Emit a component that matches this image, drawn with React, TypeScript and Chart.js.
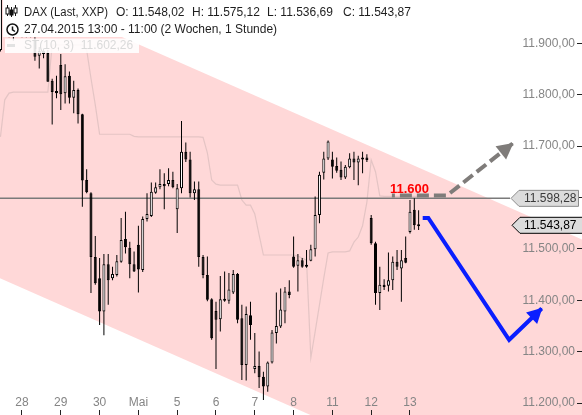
import React, { useEffect, useRef } from 'react';
import { Chart, registerables } from 'chart.js';

Chart.register(...registerables);

const FONT = '"Liberation Sans", Arial, Helvetica, sans-serif';

// Hourly DAX candles, 27.04.2015 13:00 .. 13.05.2015 11:00
const opens = [11887, 11985, 11935, 11920, 11930, 11925, 11918, 11915, 11905, 11876,
  11885, 11881, 11827, 11807, 11858, 11803, 11837, 11794, 11809, 11762,
  11634, 11608, 11484, 11443, 11378, 11470, 11443, 11449, 11475, 11519,
  11502, 11470, 11508, 11459, 11558, 11564, 11609, 11620, 11626, 11626,
  11634, 11577, 11618, 11689, 11674, 11608, 11616, 11484, 11449, 11402,
  11379, 11363, 11402, 11399, 11415, 11451, 11365, 11274, 11371, 11266,
  11272, 11251, 11232, 11279, 11336, 11349, 11378, 11417, 11485, 11467,
  11478, 11465, 11477, 11499, 11566, 11648, 11676, 11674, 11661, 11654,
  11639, 11659, 11676, 11668, 11674, 11678, 11560, 11511, 11414, 11430,
  11428, 11439, 11475, 11462, 11482, 11533, 11576, 11548.02];
const highs = [11995, 11992, 11945, 11938, 11942, 11940, 11930, 11925, 11912, 11893,
  11890, 11887, 11831, 11837, 11879, 11859, 11845, 11827, 11812, 11763,
  11655, 11610, 11525, 11482, 11490, 11490, 11465, 11488, 11560, 11572,
  11514, 11495, 11545, 11563, 11608, 11629, 11629, 11655, 11647, 11657,
  11650, 11626, 11749, 11707, 11689, 11631, 11631, 11488, 11485, 11404,
  11397, 11447, 11456, 11453, 11459, 11453, 11391, 11388, 11397, 11336,
  11300, 11261, 11281, 11342, 11415, 11423, 11426, 11439, 11524, 11490,
  11482, 11498, 11508, 11602, 11650, 11689, 11711, 11689, 11678, 11670,
  11663, 11686, 11689, 11681, 11689, 11684, 11566, 11514, 11465, 11441,
  11493, 11485, 11498, 11498, 11524, 11595, 11598.28, 11575.12];
const lows = [11884, 11925, 11912, 11905, 11915, 11912, 11912, 11912, 11866, 11851,
  11871, 11825, 11742, 11793, 11770, 11783, 11783, 11764, 11744, 11582,
  11608, 11414, 11430, 11352, 11332, 11391, 11439, 11446, 11473, 11491,
  11443, 11455, 11415, 11455, 11553, 11562, 11607, 11616, 11577, 11622,
  11618, 11531, 11608, 11669, 11600, 11595, 11465, 11443, 11398, 11323,
  11266, 11339, 11397, 11393, 11412, 11355, 11245, 11244, 11323, 11258,
  11229, 11206, 11222, 11277, 11316, 11346, 11355, 11404, 11463, 11417,
  11463, 11463, 11476, 11485, 11550, 11635, 11673, 11637, 11648, 11634,
  11636, 11657, 11634, 11624, 11647, 11669, 11508, 11391, 11381, 11420,
  11417, 11420, 11459, 11397, 11472, 11530, 11537, 11536.69];
const closes = [11990, 11935, 11920, 11930, 11925, 11918, 11915, 11914, 11874, 11885,
  11879, 11825, 11805, 11803, 11801, 11836, 11794, 11809, 11762, 11633,
  11610, 11484, 11433, 11378, 11470, 11439, 11451, 11476, 11517, 11503,
  11470, 11456, 11460, 11558, 11568, 11611, 11620, 11626, 11622, 11634,
  11620, 11618, 11689, 11674, 11608, 11616, 11484, 11449, 11401, 11326,
  11362, 11402, 11399, 11421, 11451, 11362, 11274, 11373, 11352, 11272,
  11250, 11232, 11279, 11337, 11350, 11382, 11417, 11410, 11465, 11478,
  11465, 11469, 11499, 11566, 11644, 11676, 11709, 11660, 11652, 11639,
  11660, 11676, 11668, 11676, 11676, 11673, 11511, 11414, 11430, 11426,
  11439, 11475, 11465, 11478, 11473, 11572, 11546, 11543.87];

// ST(10, 3) indicator line
const stValues = [11718, 11790, 11803, 11805, 11805, 11805, 11805, 11805, 11805, 11805,
  11805, 11805, 11897, 11897, 11897, 11897, 11897, 11897, 11897, 11897,
  11887, 11832, 11780, 11723, 11723, 11723, 11723, 11723, 11723, 11723,
  11723, 11719, 11718, 11718, 11718, 11718, 11718, 11718, 11718, 11718,
  11718, 11718, 11718, 11718, 11718, 11718, 11718, 11717, 11687, 11634,
  11626, 11624, 11624, 11624, 11624, 11624, 11595, 11585, 11585, 11568,
  11527, 11488, 11488, 11488, 11488, 11488, 11488, 11488, 11488, 11486,
  11482, 11478, 11288, 11339, 11391, 11443, 11492, 11494, 11494, 11494,
  11494, 11496, 11513, 11523, 11545, 11591, 11673, 11650, 11603, 11602.26,
  11602.26, 11602.26, 11602.26, 11602.26, 11602.26, 11602.26, 11602.26, 11602.26];

// x axis: candle index of first hour of each day
const xTickIndex = [5, 14, 23, 32, 41, 50, 59, 68, 77, 86, 95];
const xTickLabels = ['28', '29', '30', 'Mai', '5', '6', '7', '8', '11', '12', '13'];
const yTickValues = [11200, 11300, 11400, 11500, 11600, 11700, 11800, 11900];

// falling trend channel (candle index, price)
const channelX = [-1, 136];
const channelUpper = [12020, 11514];
const channelLower = [11446, 10940];

// projection arrows (candle index, price)
const bullProjX = [90.8, 103.6, 118.8];
const bullProjY = [11604, 11604, 11705];
const bearProjX = [97.95, 99.25, 118.0, 125.55];
const bearProjY = [11560, 11560, 11323, 11384];

const targetLevel = 11600;
const dayHigh = Math.max(...highs.slice(95));
const lastIdx = closes.length - 1;

const PINK = '#ffd8d8';
const BLUE = '#0a1eff';
const GREYARROW = '#7f7c7a';

function fmtDE(v: number, d = 2): string {
  const s = v.toFixed(d);
  const [ip, fp] = s.split('.');
  const w = ip.replace(/\B(?=(\d{3})+(?!\d))/g, '.');
  return fp ? w + ',' + fp : w;
}

function arrowHead(ctx: CanvasRenderingContext2D, fx: number, fy: number, tx: number, ty: number, len: number, half: number, color: string) {
  const a = Math.atan2(ty - fy, tx - fx);
  ctx.save();
  ctx.translate(tx, ty);
  ctx.rotate(a);
  ctx.beginPath();
  ctx.moveTo(1, 0);
  ctx.lineTo(-len, -half);
  ctx.lineTo(-len, half);
  ctx.closePath();
  ctx.fillStyle = color;
  ctx.fill();
  ctx.restore();
}

function priceTag(ctx: CanvasRenderingContext2D, y: number, text: string, tipX: number, rightX: number, border: string, color: string) {
  const h = 16;
  const flatX = tipX + 8;
  ctx.save();
  ctx.beginPath();
  ctx.moveTo(tipX, y);
  ctx.lineTo(flatX, y - h / 2);
  ctx.lineTo(rightX, y - h / 2);
  ctx.lineTo(rightX, y + h / 2);
  ctx.lineTo(flatX, y + h / 2);
  ctx.closePath();
  ctx.fillStyle = '#dcdcdc';
  ctx.fill();
  ctx.strokeStyle = border;
  ctx.lineWidth = 1;
  ctx.stroke();
  ctx.fillStyle = color;
  ctx.font = `12px ${FONT}`;
  ctx.textAlign = 'right';
  ctx.textBaseline = 'middle';
  ctx.fillText(text, 576.5, y + 0.5);
  ctx.restore();
}

const overlayPlugin = {
  id: 'overlay',
  beforeDraw(chart: any) {
    const { ctx } = chart;
    const x = chart.scales.x;
    const y = chart.scales.y;
    ctx.save();
    ctx.fillStyle = '#fff';
    ctx.fillRect(0, 0, chart.width, chart.height);
    ctx.beginPath();
    ctx.moveTo(x.getPixelForValue(channelX[0]), y.getPixelForValue(channelUpper[0]));
    ctx.lineTo(x.getPixelForValue(channelX[1]), y.getPixelForValue(channelUpper[1]));
    ctx.lineTo(x.getPixelForValue(channelX[1]), y.getPixelForValue(channelLower[1]));
    ctx.lineTo(x.getPixelForValue(channelX[0]), y.getPixelForValue(channelLower[0]));
    ctx.closePath();
    ctx.fillStyle = PINK;
    ctx.fill();
    ctx.restore();
  },
  afterDatasetsDraw(chart: any) {
    const { ctx } = chart;
    const find = (l: string) => chart.getDatasetMeta(chart.data.datasets.findIndex((d: any) => d.label === l));
    const bear = find('bear').data;
    const bull = find('bull').data;
    const b1 = bear[bear.length - 2], b2 = bear[bear.length - 1];
    arrowHead(ctx, b1.x, b1.y, b2.x, b2.y, 14, 8, BLUE);
    const g1 = bull[bull.length - 2], g2 = bull[bull.length - 1];
    arrowHead(ctx, g1.x, g1.y, g2.x, g2.y, 15, 8.5, GREYARROW);
    ctx.save();
    ctx.font = `bold 13px ${FONT}`;
    ctx.fillStyle = '#ff0000';
    ctx.textAlign = 'left';
    ctx.textBaseline = 'alphabetic';
    ctx.fillText(fmtDE(targetLevel, 0), bull[0].x - 2, bull[0].y - 2.5);
    ctx.restore();
  },
  afterDraw(chart: any) {
    const { ctx, chartArea } = chart;
    const y = chart.scales.y;
    priceTag(ctx, y.getPixelForValue(dayHigh), fmtDE(dayHigh), chartArea.right - 66, chartArea.right + 1.5, '#8c8c8c', '#3a3a3a');
    priceTag(ctx, y.getPixelForValue(closes[lastIdx]) - 1, fmtDE(closes[lastIdx]), chartArea.right - 65, chart.width + 2, '#000', '#000');

    ctx.save();
    // header background
    ctx.fillStyle = '#fff';
    ctx.fillRect(3, 0, 420, 37);
    ctx.fillStyle = 'rgba(255,255,255,0.88)';
    ctx.fillRect(5, 38.5, 134, 14.5);

    // candlestick icon
    ctx.strokeStyle = '#111';
    ctx.lineWidth = 1;
    const icon = [[7.5, 5, 16, 8, 14, false], [11.5, 7, 17, 10, 15, true], [15.5, 5, 16, 8, 13, false]] as const;
    icon.forEach(([cx, t, b, bt, bb, filled]) => {
      ctx.beginPath();
      ctx.moveTo(cx, t);
      ctx.lineTo(cx, b);
      ctx.stroke();
      ctx.fillStyle = filled ? '#111' : '#fff';
      ctx.fillRect(cx - 1.5, bt, 3, bb - bt);
      ctx.strokeRect(cx - 1.5, bt, 3, bb - bt);
    });
    // clock icon
    ctx.lineWidth = 1.5;
    ctx.beginPath();
    ctx.arc(12.5, 29.5, 5.5, 0, Math.PI * 2);
    ctx.stroke();
    ctx.beginPath();
    ctx.moveTo(12.5, 26.5);
    ctx.lineTo(12.5, 29.8);
    ctx.lineTo(15, 31.5);
    ctx.stroke();
    // ST legend dash
    ctx.strokeStyle = '#e2e2e2';
    ctx.lineWidth = 3;
    ctx.beginPath();
    ctx.moveTo(7, 45.5);
    ctx.lineTo(15, 45.5);
    ctx.stroke();

    ctx.font = `12px ${FONT}`;
    ctx.textAlign = 'left';
    ctx.textBaseline = 'middle';
    ctx.fillStyle = '#1e1e1e';
    ctx.fillText('DAX (Last, XXP)', 24, 12.5, 84);
    ctx.fillText('O: ' + fmtDE(opens[lastIdx]), 116, 12.5);
    ctx.fillText('H: ' + fmtDE(highs[lastIdx]), 192, 12.5);
    ctx.fillText('L: ' + fmtDE(lows[lastIdx]), 267, 12.5);
    ctx.fillText('C: ' + fmtDE(closes[lastIdx]), 343, 12.5);
    ctx.fillText('27.04.2015 13:00 - 11:00 (2 Wochen, 1 Stunde)', 24, 29.5, 255);
    ctx.fillStyle = '#dadada';
    ctx.fillText('ST(10, 3)  ' + fmtDE(stValues[lastIdx]), 24, 46, 110);
    ctx.restore();
  },
};

export default function App() {
  const ref = useRef<HTMLCanvasElement>(null);
  useEffect(() => {
    document.body.style.margin = '0';
    const tickFont = { family: FONT, size: 12 };
    const chart = new Chart(ref.current as HTMLCanvasElement, {
      type: 'bar',
      data: {
        datasets: [
          {
            type: 'line', label: 'bear',
            data: bearProjX.map((x, i) => ({ x, y: bearProjY[i] })),
            borderColor: BLUE, borderWidth: 4, pointRadius: 0, tension: 0, fill: false,
            borderJoinStyle: 'miter', borderCapStyle: 'butt', order: 0, clip: false,
          } as any,
          {
            type: 'line', label: 'bull',
            data: bullProjX.map((x, i) => ({ x, y: bullProjY[i] })),
            borderColor: GREYARROW, borderWidth: 4, pointRadius: 0, tension: 0, fill: false,
            borderDash: [12, 5], borderDashOffset: 9, borderCapStyle: 'butt', order: 1, clip: false,
          } as any,
          {
            type: 'bar', label: 'body',
            data: opens.map((o, i) => ({ x: i, y: [Math.min(o, closes[i]), Math.max(o, closes[i])] })),
            backgroundColor: opens.map((o, i) => (closes[i] >= o ? '#ffffff' : '#000000')),
            borderColor: '#000', borderWidth: 1, borderSkipped: false, grouped: false,
            barThickness: 3, maxBarThickness: 3, minBarLength: 2, inflateAmount: 0, order: 2,
          } as any,
          {
            type: 'bar', label: 'wick',
            data: opens.map((_, i) => ({ x: i, y: [lows[i], highs[i]] })),
            backgroundColor: '#000', borderWidth: 0, grouped: false,
            barThickness: 1, maxBarThickness: 1, inflateAmount: 0, order: 3,
          } as any,
          {
            type: 'line', label: 'high',
            data: [{ x: -1, y: dayHigh }, { x: 118.2, y: dayHigh }],
            borderColor: '#7a7a7a', borderWidth: 1.5, pointRadius: 0, order: 4,
          } as any,
          {
            type: 'line', label: 'ST',
            data: stValues.map((v, i) => ({ x: i, y: v })),
            borderColor: 'rgba(120,120,120,0.2)', borderWidth: 1.2, pointRadius: 0, tension: 0, order: 5,
          } as any,
        ],
      },
      options: {
        animation: false,
        responsive: false,
        maintainAspectRatio: false,
        events: [],
        layout: { padding: 0 },
        plugins: { legend: { display: false }, tooltip: { enabled: false } },
        scales: {
          x: {
            type: 'linear', position: 'bottom', min: -0.102, max: 133.74, offset: false,
            afterBuildTicks: (s: any) => { s.ticks = xTickIndex.map((v) => ({ value: v })); },
            afterFit: (s: any) => { s.height = 5; s.paddingLeft = 0; s.paddingRight = 0; },
            border: { display: false },
            grid: { drawOnChartArea: false, drawTicks: true, tickLength: 5, color: '#222', offset: false },
            ticks: {
              mirror: true, padding: 0, autoSkip: false, maxRotation: 0, color: '#858585', font: tickFont,
              callback: (_v: any, i: number) => xTickLabels[i],
            },
          },
          y: {
            type: 'linear', position: 'right', min: 11186.4, max: 11984.26,
            afterBuildTicks: (s: any) => { s.ticks = yTickValues.map((v) => ({ value: v })); },
            afterFit: (s: any) => { s.width = 5; s.paddingTop = 0; s.paddingBottom = 0; },
            border: { display: false },
            grid: { drawOnChartArea: false, drawTicks: true, tickLength: 5, color: '#222' },
            ticks: {
              mirror: true, padding: -2, color: '#858585', font: tickFont,
              callback: (v: any) => fmtDE(Number(v)),
            },
          },
        },
      } as any,
      plugins: [overlayPlugin],
    });
    return () => chart.destroy();
  }, []);
  return (
    <div style={{ position: 'absolute', left: 0, top: 0, width: 582, height: 415 }}>
      <canvas ref={ref} width={582} height={415} style={{ display: 'block' }} />
    </div>
  );
}
